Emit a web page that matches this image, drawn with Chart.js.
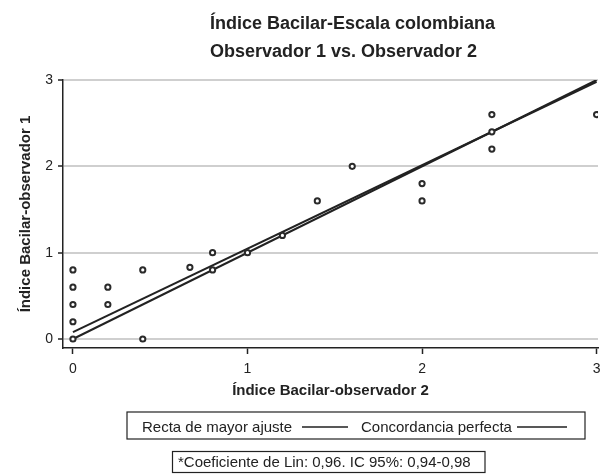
<!DOCTYPE html>
<html>
<head>
<meta charset="utf-8">
<script src="https://cdn.jsdelivr.net/npm/chart.js@4"></script>
<style>
  body { margin: 0; background: #fff; }
  #wrap { width: 604px; height: 474px; }
</style>
</head>
<body>
<div id="wrap"><canvas id="lin"></canvas></div>
<script>
// Índice bacilar: observador 2 (x) vs observador 1 (y)
var obs2 = [0, 0, 0, 0, 0, 0.2, 0.2, 0.4, 0.4, 0.67, 0.8, 0.8, 1.0, 1.2, 1.4, 1.6, 2.0, 2.0, 2.4, 2.4, 2.4, 3.0];
var obs1 = [0, 0.2, 0.4, 0.6, 0.8, 0.4, 0.6, 0, 0.8, 0.83, 0.8, 1.0, 1.0, 1.2, 1.6, 2.0, 1.6, 1.8, 2.2, 2.4, 2.6, 2.6];

// recta de mayor ajuste y concordancia perfecta (extremos)
var lineX = [0, 3];
var fitY = [0.08, 2.98];
var perfectY = [0, 3];

var tickValues = [0, 1, 2, 3];

var titleLines = ['Índice Bacilar-Escala colombiana', 'Observador 1 vs. Observador 2'];
var xTitle = 'Índice Bacilar-observador 2';
var yTitle = 'Índice Bacilar-observador 1';
var legendLabels = ['Recta de mayor ajuste', 'Concordancia perfecta'];
var note = '*Coeficiente de Lin: 0,96. IC 95%: 0,94-0,98';

var FONT = '"Liberation Sans", Arial, Helvetica, sans-serif';

function toPoints(xs, ys) {
    return xs.map(function(x, i) { return { x: x, y: ys[i] }; });
}

// Titulo, leyenda y nota dibujados sobre el canvas
var extras = {
    id: 'extras',
    afterDraw: function(chart) {
        var ctx = chart.ctx;
        ctx.save();
        ctx.fillStyle = '#222';
        ctx.textAlign = 'left';
        ctx.textBaseline = 'alphabetic';
        ctx.font = 'bold 18px ' + FONT;
        ctx.fillText(titleLines[0], 210, 29);
        ctx.fillText(titleLines[1], 210, 57);

        // caja de leyenda
        ctx.strokeStyle = '#222';
        ctx.lineWidth = 1.2;
        ctx.strokeRect(127, 412, 458, 27);
        ctx.font = '15px ' + FONT;
        ctx.fillText(legendLabels[0], 142, 432);
        ctx.fillText(legendLabels[1], 361, 432);
        ctx.lineWidth = 1.5;
        ctx.beginPath();
        ctx.moveTo(302, 427); ctx.lineTo(348, 427);
        ctx.moveTo(517, 427); ctx.lineTo(567, 427);
        ctx.stroke();

        // caja de nota
        ctx.lineWidth = 1.2;
        ctx.strokeRect(172.5, 451.5, 312.5, 21);
        ctx.fillText(note, 178, 467);
        ctx.restore();
    }
};

var ctx = document.getElementById('lin').getContext('2d');
var linChart = new Chart(ctx, {
    type: 'scatter',
    data: {
        datasets: [{
            label: 'Datos',
            data: toPoints(obs2, obs1),
            pointStyle: 'circle',
            pointRadius: 2.6,
            borderWidth: 2,
            borderColor: '#2a2a2a',
            backgroundColor: '#fff'
        }, {
            label: legendLabels[0],
            data: toPoints(lineX, fitY),
            showLine: true,
            pointRadius: 0,
            borderColor: '#222',
            borderWidth: 2
        }, {
            label: legendLabels[1],
            data: toPoints(lineX, perfectY),
            showLine: true,
            pointRadius: 0,
            borderColor: '#222',
            borderWidth: 2
        }]
    },
    options: {
        responsive: true,
        maintainAspectRatio: false,
        animation: false,
        layout: { padding: { top: 80, left: 0, right: 2, bottom: 74 } },
        plugins: {
            legend: { display: false },
            title: { display: false },
            tooltip: { enabled: false }
        },
        scales: {
            x: {
                type: 'linear',
                min: -0.057,
                max: 3.008,
                afterBuildTicks: function(axis) {
                    axis.ticks = tickValues.map(function(v) { return { value: v }; });
                },
                afterFit: function(axis) {
                    axis.height = 52;
                    axis.paddingLeft = 0;
                    axis.paddingRight = 0;
                },
                grid: { drawOnChartArea: false, tickColor: '#222', tickLength: 6, tickWidth: 1.5 },
                border: { color: '#222', width: 1.5 },
                ticks: { color: '#222', padding: 7, font: { family: FONT, size: 14 } },
                title: {
                    display: true,
                    text: xTitle,
                    color: '#222',
                    padding: 0,
                    font: { family: FONT, size: 15, weight: 'bold' }
                }
            },
            y: {
                type: 'linear',
                min: -0.104,
                max: 3,
                afterBuildTicks: function(axis) {
                    axis.ticks = tickValues.map(function(v) { return { value: v }; });
                },
                afterFit: function(axis) {
                    axis.width = 63;
                    axis.paddingTop = 0;
                    axis.paddingBottom = 0;
                },
                grid: { color: '#cfcfcf', lineWidth: 2, tickColor: '#222', tickLength: 5, tickWidth: 1.5 },
                border: { color: '#222', width: 1.5 },
                ticks: { color: '#222', padding: 5, font: { family: FONT, size: 14 } },
                title: {
                    display: true,
                    text: yTitle,
                    color: '#222',
                    padding: { top: 17, bottom: 0 },
                    font: { family: FONT, size: 15, weight: 'bold' }
                }
            }
        }
    },
    plugins: [extras]
});
</script>
</body>
</html>
